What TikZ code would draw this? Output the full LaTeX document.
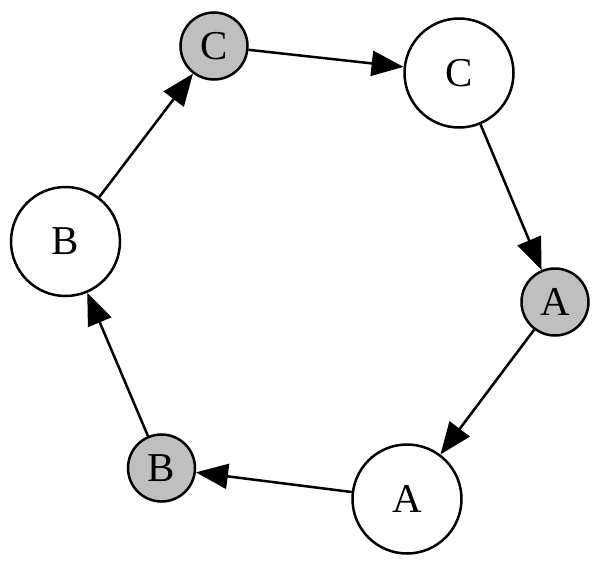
\documentclass[tikz,border=0pt]{standalone}
\usepackage{fontspec}
\setmainfont{Liberation Serif}
\usetikzlibrary{arrows.meta}
\begin{document}
\begin{tikzpicture}[x=1pt,y=-1pt,
  big/.style={circle,draw=black,line width=2.5pt,fill=white,minimum size=109pt,inner sep=0pt,font=\fontsize{41}{41}\selectfont},
  small/.style={circle,draw=black,line width=2.5pt,fill=gray!50!white,minimum size=67pt,inner sep=0pt,font=\fontsize{41}{41}\selectfont},
  edge/.style={line width=2.5pt,-{Triangle[length=32pt,width=25pt]}}]
\useasboundingbox (0,0) rectangle (598,565);
\node[small] (cg) at (214,46) {C};
\node[big] (cw) at (459,73) {C};
\node[small] (ag) at (555,302) {A};
\node[big] (aw) at (407,499) {A};
\node[small] (bg) at (161.5,468) {B};
\node[big] (bw) at (65.5,241.5) {B};
\draw[edge] (cg) -- (cw);
\draw[edge] (cw) -- (ag);
\draw[edge] (ag) -- (aw);
\draw[edge] (aw) -- (bg);
\draw[edge] (bg) -- (bw);
\draw[edge] (bw) -- (cg);
\end{tikzpicture}
\end{document}
